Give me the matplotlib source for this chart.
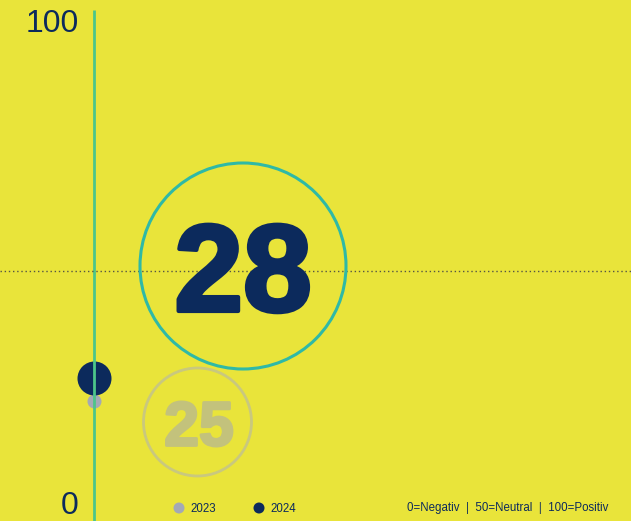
import matplotlib.pyplot as plt
import matplotlib.patheffects as pe
from matplotlib.patches import Circle

# ---DATA------------------------------
years = ['2023', '2024']
scores = [25, 28]
dot_colors = ['#a3a9b6', '#0c2a5c']
dot_sizes = [14, 34]          # pixel diameters of the dots on the axis
scale_labels = ['100', '0']
scale_note = '0=Negativ  |  50=Neutral  |  100=Positiv'

BG = '#e9e43a'
NAVY = '#0c2a5c'
FONT = 'Liberation Sans'

W, H = 631, 521
fig = plt.figure(figsize=(W / 100, H / 100), dpi=100)
fig.patch.set_facecolor(BG)

# data axes: y in score units (zoomed so the dots sit as in the original)
ax = fig.add_axes([0, 0, 1, 1])
ax.set_facecolor(BG)
ax.set_xlim(0, W)
ax.set_ylim(9.39, 77.3)
ax.axis('off')

# decoration axes in pixel coordinates
deco = fig.add_axes([0, 0, 1, 1])
deco.set_xlim(0, W)
deco.set_ylim(H, 0)
deco.set_aspect('equal')
deco.axis('off')
deco.patch.set_alpha(0)

# vertical scale line + midline
deco.plot([94, 94], [10, H + 2], color='#4cc58a', lw=2, solid_capstyle='butt', zorder=1)
deco.plot([0, W], [271, 271], color='#555544', lw=1, ls=(0, (1, 2)), zorder=1)

# dots at the scores (2024 on top)
for s, c, d in zip(scores, dot_colors, dot_sizes):
    ax.scatter(94, s, s=(d * 0.72) ** 2, color=c, zorder=3, linewidths=0)

# big numbers in circles (thickened a bit to look like a heavy face)
deco.add_patch(Circle((243, 266), 103, fill=False, ec='#2fb9a6', lw=2.2, zorder=2))
deco.text(243, 279, str(scores[1]), ha='center', va='center', color=NAVY,
          fontsize=89, fontfamily=FONT, fontweight='bold',
          path_effects=[pe.withStroke(linewidth=3, foreground=NAVY)])

deco.add_patch(Circle((197.5, 422), 54, fill=False, ec='#c9c87e', lw=2, zorder=2))
deco.text(199, 429, str(scores[0]), ha='center', va='center', color='#c3c27c',
          fontsize=45, fontfamily=FONT, fontweight='bold',
          path_effects=[pe.withStroke(linewidth=2, foreground='#c3c27c')])

# scale labels
deco.text(79, 24, scale_labels[0], ha='right', va='center', color=NAVY,
          fontsize=23, fontfamily=FONT)
deco.text(79, 506, scale_labels[1], ha='right', va='center', color=NAVY,
          fontsize=23, fontfamily=FONT)

# legend
leg_x = [179, 259]
for x, yr, c in zip(leg_x, years, dot_colors):
    deco.add_patch(Circle((x, 508), 5.5, color=c, lw=0))
    deco.text(x + 11, 508.5, yr, ha='left', va='center', color=NAVY,
              fontsize=8.3, fontfamily=FONT)

deco.text(608, 508.5, scale_note, ha='right', va='center', color=NAVY,
          fontsize=8.3, fontfamily=FONT)

fig.savefig('out.png', dpi=100, facecolor=BG)
